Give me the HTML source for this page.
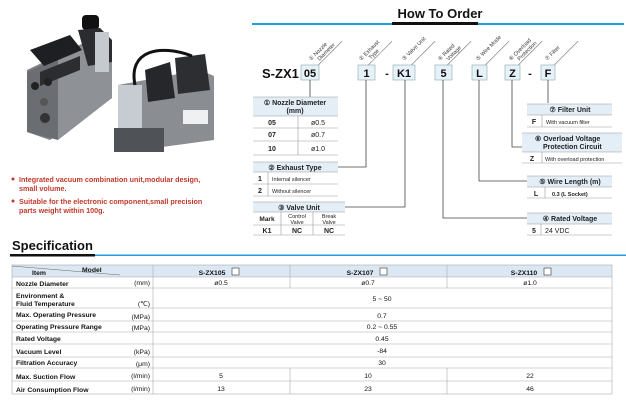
<!DOCTYPE html>
<html><head><meta charset="utf-8"><style>
html,body{margin:0;padding:0;background:#fff;}
svg{display:block;font-family:"Liberation Sans",Arial,sans-serif;}
</style></head><body>
<svg width="626" height="400" viewBox="0 0 626 400" xmlns="http://www.w3.org/2000/svg">
<rect width="626" height="400" fill="#fff"/>
<!-- product photos -->
<g>
 <!-- left unit -->
 <polygon points="27,70 90,40 112,60 112,98 50,140 27,132" fill="#7d8084"/>
 <polygon points="27,72 58,58 58,140 27,132" fill="#6a6d71"/>
 <polygon points="58,58 90,42 112,60 112,98 58,140" fill="#8e9195"/>
 <polygon points="30,50 70,35 82,50 44,66" fill="#1d1f22"/>
 <polygon points="40,72 80,56 80,70 40,86" fill="#2b2d30"/>
 <rect x="82" y="15" width="17" height="15" rx="4" fill="#111"/>
 <polygon points="78,30 100,28 112,40 112,62 88,66" fill="#2a2c2f"/>
 <rect x="95" y="32" width="14" height="40" fill="#c5cace"/>
 <circle cx="35" cy="86" r="4" fill="#222"/><circle cx="48" cy="82" r="4" fill="#222"/>
 <circle cx="45" cy="118" r="5" fill="#333"/>
 <circle cx="44" cy="102" r="4" fill="#555"/>
 <!-- right unit -->
 <polygon points="118,85 200,70 214,76 214,140 140,150 118,140" fill="#8a8d91"/>
 <rect x="118" y="85" width="24" height="50" fill="#c7ccd2"/>
 <rect x="114" y="128" width="50" height="24" fill="#4f5256"/>
 <polygon points="145,70 170,62 175,98 148,102" fill="#25272a"/>
 <polygon points="175,58 205,54 210,90 178,94" fill="#2c2e31"/>
 <path d="M135,85 C128,50 160,44 192,56" stroke="#111" stroke-width="3" fill="none"/>
 <rect x="183" y="110" width="25" height="14" fill="#eef0f2"/>
</g>
<g fill="#c0392b" font-size="7.2" font-weight="bold">
 <circle cx="13" cy="179" r="1.5"/>
 <text x="19" y="182">Integrated vacuum combination unit,modular design,</text>
 <text x="19" y="191">small volume.</text>
 <circle cx="13" cy="201" r="1.5"/>
 <text x="19" y="204">Suitable for the electronic component,small precision</text>
 <text x="19" y="213">parts weight within 100g.</text>
</g>
<!-- How to order header -->
<text x="440" y="18" text-anchor="middle" font-size="13" font-weight="bold" fill="#111">How To Order</text>
<rect x="252" y="23" width="372" height="2" fill="#1fa0dc"/>
<rect x="392" y="22" width="86" height="3" fill="#111"/>
<!-- rotated labels -->
<g font-size="5.5" fill="#333">
 <g transform="translate(311,61) rotate(-45)"><text x="0" y="0">① Nozzle</text><text x="6" y="6">Diameter</text><line x1="0" y1="8" x2="36" y2="8" stroke="#555" stroke-width="0.5"/></g>
 <g transform="translate(361,61) rotate(-45)"><text x="0" y="0">② Exhaust</text><text x="8" y="6">Type</text><line x1="0" y1="8" x2="36" y2="8" stroke="#555" stroke-width="0.5"/></g>
 <g transform="translate(404,61) rotate(-45)"><text x="0" y="0">③ Valve Unit</text><line x1="0" y1="8" x2="36" y2="8" stroke="#555" stroke-width="0.5"/></g>
 <g transform="translate(440,61) rotate(-45)"><text x="0" y="0">④ Rated</text><text x="6" y="6">Voltage</text><line x1="0" y1="8" x2="36" y2="8" stroke="#555" stroke-width="0.5"/></g>
 <g transform="translate(478,61) rotate(-45)"><text x="0" y="0">⑤ Wire Mode</text><line x1="0" y1="8" x2="36" y2="8" stroke="#555" stroke-width="0.5"/></g>
 <g transform="translate(511,61) rotate(-45)"><text x="0" y="0">⑥ Overload</text><text x="6" y="6">Protection</text><line x1="0" y1="8" x2="36" y2="8" stroke="#555" stroke-width="0.5"/></g>
 <g transform="translate(547,61) rotate(-45)"><text x="0" y="0">⑦ Filter</text><line x1="0" y1="8" x2="36" y2="8" stroke="#555" stroke-width="0.5"/></g>
</g>
<!-- code boxes -->
<text x="262" y="78" font-size="13" font-weight="bold" fill="#111">S-ZX1</text>
<g fill="#e6f1f9" stroke="#8aa" stroke-width="0.6">
 <rect x="301" y="65" width="18" height="15"/><rect x="358" y="65" width="17" height="15"/>
 <rect x="393" y="65" width="22" height="15"/><rect x="435" y="65" width="17" height="15"/>
 <rect x="472" y="65" width="15" height="15"/><rect x="505" y="65" width="15" height="15"/>
 <rect x="541" y="65" width="14" height="15"/>
</g>
<g font-size="11" font-weight="bold" fill="#111" text-anchor="middle">
 <text x="310" y="77">05</text><text x="366.5" y="77">1</text><text x="387" y="77">-</text>
 <text x="404" y="77">K1</text><text x="443.5" y="77">5</text><text x="479.5" y="77">L</text>
 <text x="512.5" y="77">Z</text><text x="530" y="77">-</text><text x="548" y="77">F</text>
</g>
<!-- connectors -->
<g stroke="#444" stroke-width="0.8" fill="none">
 <polyline points="310,80 310,97"/>
 <polyline points="366,80 366,167 338,167"/>
 <polyline points="405,80 405,207 345,207"/>
 <polyline points="443,80 443,218 527,218"/>
 <polyline points="479,80 479,181 527,181"/>
 <polyline points="512,80 512,147 522,147"/>
 <polyline points="548,80 548,103"/>
</g>
<!-- small tables -->
<g font-size="7" fill="#222">
 <rect x="253" y="97" width="85" height="19" fill="#e3eef7"/>
 <text x="295" y="105" text-anchor="middle" font-weight="bold">① Nozzle Diameter</text>
 <text x="295" y="113" text-anchor="middle" font-weight="bold">(mm)</text>
 <g stroke="#999" stroke-width="0.6"><line x1="253" y1="97" x2="338" y2="97"/><line x1="253" y1="116" x2="338" y2="116"/><line x1="253" y1="128" x2="338" y2="128"/><line x1="253" y1="141" x2="338" y2="141"/><line x1="253" y1="155" x2="338" y2="155"/><line x1="298" y1="116" x2="298" y2="155"/></g>
 <text x="272" y="125" font-weight="bold" text-anchor="middle">05</text><text x="318" y="125" text-anchor="middle">ø0.5</text>
 <text x="272" y="137" font-weight="bold" text-anchor="middle">07</text><text x="318" y="137" text-anchor="middle">ø0.7</text>
 <text x="272" y="151" font-weight="bold" text-anchor="middle">10</text><text x="318" y="151" text-anchor="middle">ø1.0</text>
 <rect x="253" y="162" width="85" height="10" fill="#e3eef7"/>
 <text x="295" y="170" text-anchor="middle" font-weight="bold">② Exhaust Type</text>
 <g stroke="#999" stroke-width="0.6"><line x1="253" y1="162" x2="338" y2="162"/><line x1="253" y1="172" x2="338" y2="172"/><line x1="253" y1="184" x2="338" y2="184"/><line x1="253" y1="196" x2="338" y2="196"/><line x1="268" y1="172" x2="268" y2="196"/></g>
 <text x="260" y="181" font-weight="bold" text-anchor="middle">1</text><text x="272" y="181" font-size="5.5">Internal silencer</text>
 <text x="260" y="193" font-weight="bold" text-anchor="middle">2</text><text x="272" y="193" font-size="5.5">Without silencer</text>
 <rect x="253" y="202" width="92" height="10" fill="#e3eef7"/>
 <text x="299" y="210" text-anchor="middle" font-weight="bold">③ Valve Unit</text>
 <g stroke="#999" stroke-width="0.6"><line x1="253" y1="202" x2="345" y2="202"/><line x1="253" y1="212" x2="345" y2="212"/><line x1="253" y1="225" x2="345" y2="225"/><line x1="253" y1="235" x2="345" y2="235"/><line x1="281" y1="212" x2="281" y2="235"/><line x1="313" y1="212" x2="313" y2="235"/></g>
 <text x="267" y="221" font-weight="bold" text-anchor="middle" font-size="6.5">Mark</text>
 <text x="297" y="218" text-anchor="middle" font-size="5.5">Control</text><text x="297" y="224" text-anchor="middle" font-size="5.5">Valve</text>
 <text x="329" y="218" text-anchor="middle" font-size="5.5">Break</text><text x="329" y="224" text-anchor="middle" font-size="5.5">Valve</text>
 <text x="267" y="233" font-weight="bold" text-anchor="middle">K1</text><text x="297" y="233" font-weight="bold" text-anchor="middle">NC</text><text x="329" y="233" font-weight="bold" text-anchor="middle">NC</text>
 <rect x="527" y="104" width="85" height="11" fill="#e3eef7"/>
 <text x="570" y="112" text-anchor="middle" font-weight="bold">⑦ Filter Unit</text>
 <g stroke="#999" stroke-width="0.6"><line x1="527" y1="104" x2="612" y2="104"/><line x1="527" y1="115" x2="612" y2="115"/><line x1="527" y1="127" x2="612" y2="127"/><line x1="542" y1="115" x2="542" y2="127"/></g>
 <text x="534" y="124" font-weight="bold" text-anchor="middle">F</text><text x="546" y="124" font-size="5.5">With vacuum filter</text>
 <rect x="522" y="133" width="100" height="19" fill="#e3eef7"/>
 <text x="535" y="141" font-weight="bold">⑥ Overload Voltage</text>
 <text x="543" y="149" font-weight="bold">Protection Circuit</text>
 <g stroke="#999" stroke-width="0.6"><line x1="522" y1="133" x2="622" y2="133"/><line x1="522" y1="152" x2="622" y2="152"/><line x1="522" y1="163" x2="622" y2="163"/><line x1="542" y1="152" x2="542" y2="163"/></g>
 <text x="532" y="161" font-weight="bold" text-anchor="middle">Z</text><text x="545" y="161" font-size="5.5">With overload protection</text>
 <rect x="527" y="176" width="85" height="11" fill="#e3eef7"/>
 <text x="570" y="184" text-anchor="middle" font-weight="bold">⑤ Wire Length  (m)</text>
 <g stroke="#999" stroke-width="0.6"><line x1="527" y1="176" x2="612" y2="176"/><line x1="527" y1="187" x2="612" y2="187"/><line x1="527" y1="198" x2="612" y2="198"/><line x1="545" y1="187" x2="545" y2="198"/></g>
 <text x="536" y="196" font-weight="bold" text-anchor="middle">L</text><text x="552" y="196" font-size="5.5" font-weight="bold">0.3 (L Socket)</text>
 <rect x="527" y="213" width="85" height="11" fill="#e3eef7"/>
 <text x="570" y="221" text-anchor="middle" font-weight="bold">④ Rated Voltage</text>
 <g stroke="#999" stroke-width="0.6"><line x1="527" y1="213" x2="612" y2="213"/><line x1="527" y1="224" x2="612" y2="224"/><line x1="527" y1="235" x2="612" y2="235"/><line x1="541" y1="224" x2="541" y2="235"/></g>
 <text x="534" y="233" font-weight="bold" text-anchor="middle">5</text><text x="545" y="233">24 VDC</text>
</g>
<!-- Specification -->
<text x="12" y="250" font-size="13" font-weight="bold" fill="#111">Specification</text>
<rect x="10" y="254" width="85" height="2.5" fill="#111"/>
<rect x="95" y="254.5" width="531" height="1.5" fill="#1fa0dc"/>
<rect x="12" y="265" width="600" height="12" fill="#dbe8f4"/>
<g stroke="#aaa" stroke-width="0.6" fill="none">
 <rect x="12" y="265" width="600" height="129"/>
 <line x1="12" y1="277" x2="612" y2="277"/><line x1="12" y1="288" x2="612" y2="288"/>
 <line x1="12" y1="308" x2="612" y2="308"/><line x1="12" y1="321" x2="612" y2="321"/>
 <line x1="12" y1="332" x2="612" y2="332"/><line x1="12" y1="344" x2="612" y2="344"/>
 <line x1="12" y1="357" x2="612" y2="357"/><line x1="12" y1="368" x2="612" y2="368"/>
 <line x1="12" y1="381" x2="612" y2="381"/>
 <line x1="153" y1="265" x2="153" y2="394"/>
 <line x1="290" y1="265" x2="290" y2="288"/><line x1="447" y1="265" x2="447" y2="288"/>
 <line x1="290" y1="368" x2="290" y2="394"/><line x1="447" y1="368" x2="447" y2="394"/>
 <line x1="12" y1="266" x2="120" y2="275" stroke="#666"/>
</g>
<g font-size="6.8" fill="#111">
 <text x="32" y="275" font-weight="bold">Item</text><text x="82" y="272" font-weight="bold">Model</text>
 <text x="212" y="275" font-weight="bold" text-anchor="middle">S-ZX105</text><rect x="232" y="268" width="7" height="7" fill="#fff" stroke="#333" stroke-width="0.6"/>
 <text x="360" y="275" font-weight="bold" text-anchor="middle">S-ZX107</text><rect x="380" y="268" width="7" height="7" fill="#fff" stroke="#333" stroke-width="0.6"/>
 <text x="524" y="275" font-weight="bold" text-anchor="middle">S-ZX110</text><rect x="544" y="268" width="7" height="7" fill="#fff" stroke="#333" stroke-width="0.6"/>
 <g font-weight="bold">
  <text x="16" y="286">Nozzle Diameter</text>
  <text x="16" y="298">Environment &amp;</text><text x="16" y="306">Fluid Temperature</text>
  <text x="16" y="317">Max. Operating Pressure</text>
  <text x="16" y="329">Operating Pressure Range</text>
  <text x="16" y="341">Rated Voltage</text>
  <text x="16" y="354">Vacuum Level</text>
  <text x="16" y="365">Filtration Accuracy</text>
  <text x="16" y="379">Max. Suction Flow</text>
  <text x="16" y="392">Air Consumption Flow</text>
 </g>
 <g text-anchor="end">
  <text x="150" y="285">(mm)</text><text x="150" y="306">(℃)</text><text x="150" y="319">(MPa)</text>
  <text x="150" y="330">(MPa)</text><text x="150" y="354">(kPa)</text><text x="150" y="366">(μm)</text>
  <text x="150" y="378">(l/min)</text><text x="150" y="391">(l/min)</text>
 </g>
 <g text-anchor="middle">
  <text x="221" y="285">ø0.5</text><text x="368" y="285">ø0.7</text><text x="530" y="285">ø1.0</text>
  <text x="382" y="301">5 ~ 50</text><text x="382" y="318">0.7</text><text x="382" y="329">0.2 ~ 0.55</text>
  <text x="382" y="341">0.45</text><text x="382" y="353">-84</text><text x="382" y="365">30</text>
  <text x="221" y="378">5</text><text x="368" y="378">10</text><text x="530" y="378">22</text>
  <text x="221" y="391">13</text><text x="368" y="391">23</text><text x="530" y="391">46</text>
 </g>
</g>
</svg>
</body></html>
